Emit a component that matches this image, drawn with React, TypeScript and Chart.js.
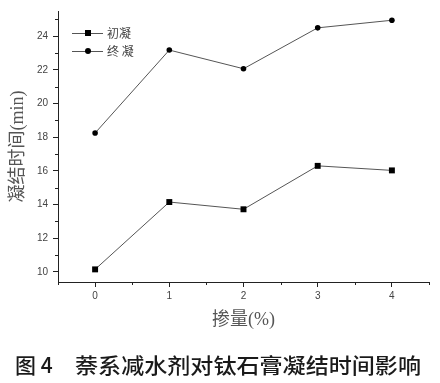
import React, { useEffect, useRef } from "react";
import { Chart, registerables } from "chart.js";

Chart.register(...registerables);

const dosage = [0, 1, 2, 3, 4];
const initialSet = [10.15, 14.15, 13.72, 16.3, 16.03];
const finalSet = [18.25, 23.18, 22.07, 24.5, 24.95];
const yTickValues = [10, 12, 14, 16, 18, 20, 22, 24];
const xTickValues = [0, 1, 2, 3, 4];
const seriesNames = ["初凝", "终 凝"];
const xTitle = "掺量(%)";
const yTitle = "凝结时间(min)";
const captionLabel = "图 4";
const captionText = "萘系减水剂对钛石膏凝结时间影响";

const AXIS = "#222";
const LABEL = "#444";

const extras = {
  id: "extras",
  afterDraw(chart: any) {
    const ctx = chart.ctx;
    const x = chart.scales.x;
    const y = chart.scales.y;
    const area = chart.chartArea;
    ctx.save();
    ctx.strokeStyle = AXIS;
    ctx.lineWidth = 1;
    ctx.beginPath();
    for (let v = -0.5; v <= 4.5; v += 1) {
      const px = Math.round(x.getPixelForValue(v)) + 0.5;
      ctx.moveTo(px, area.bottom);
      ctx.lineTo(px, area.bottom + 3);
    }
    for (let v = 11; v <= 25; v += 2) {
      const py = Math.round(y.getPixelForValue(v)) + 0.5;
      ctx.moveTo(area.left, py);
      ctx.lineTo(area.left - 3, py);
    }
    ctx.stroke();

    // legend
    const rows = [
      { name: seriesNames[0], y: 33, style: "rect" },
      { name: seriesNames[1], y: 51, style: "circle" },
    ];
    ctx.font = "12px 'Noto Sans CJK SC'";
    ctx.textBaseline = "middle";
    for (const r of rows) {
      ctx.strokeStyle = "#555";
      ctx.beginPath();
      ctx.moveTo(72, r.y + 0.5);
      ctx.lineTo(103, r.y + 0.5);
      ctx.stroke();
      ctx.fillStyle = "#000";
      if (r.style === "rect") {
        ctx.fillRect(85, r.y - 3, 6, 6);
      } else {
        ctx.beginPath();
        ctx.arc(88, r.y, 3, 0, Math.PI * 2);
        ctx.fill();
      }
      ctx.fillStyle = LABEL;
      ctx.textAlign = "left";
      ctx.fillText(r.name, 107, r.y);
    }

    // caption
    ctx.fillStyle = "#1a1a1a";
    ctx.font = "500 21px 'Noto Sans CJK SC'";
    ctx.textBaseline = "middle";
    ctx.textAlign = "left";
    ctx.fillText(captionLabel, 15, 365);
    const w = ctx.measureText(captionText).width;
    const target = 346;
    ctx.save();
    ctx.translate(75, 365);
    ctx.scale(target / w, 1);
    ctx.fillText(captionText, 0, 0);
    ctx.restore();
    ctx.restore();
  },
};

export default function App() {
  const ref = useRef<HTMLCanvasElement>(null);
  useEffect(() => {
    document.body.style.margin = "0";
    const chart = new Chart(ref.current!, {
      type: "line",
      data: {
        datasets: [
          {
            label: seriesNames[0],
            data: dosage.map((d, i) => ({ x: d, y: initialSet[i] })),
            borderColor: "#555",
            borderWidth: 1,
            pointStyle: "rect",
            pointRadius: 4.2,
            pointBackgroundColor: "#000",
            pointBorderWidth: 0,
          },
          {
            label: seriesNames[1],
            data: dosage.map((d, i) => ({ x: d, y: finalSet[i] })),
            borderColor: "#555",
            borderWidth: 1,
            pointStyle: "circle",
            pointRadius: 2.8,
            pointBackgroundColor: "#000",
            pointBorderWidth: 0,
          },
        ],
      },
      options: {
        animation: false,
        responsive: false,
        layout: { padding: { top: 8, right: 11, left: 0, bottom: 43 } },
        plugins: {
          legend: { display: false },
          tooltip: { enabled: false },
        },
        scales: {
          x: {
            type: "linear",
            min: -0.5,
            max: 4.5,
            afterBuildTicks: (s: any) => {
              s.ticks = xTickValues.map((v) => ({ value: v }));
            },
            afterFit: (s: any) => {
              s.height = 58;
            },
            border: { display: true, color: AXIS, width: 1 },
            grid: { drawOnChartArea: false, tickLength: 5, tickColor: AXIS },
            ticks: {
              color: LABEL,
              font: { size: 10, family: "'Liberation Sans'" },
              padding: 3,
              maxRotation: 0,
            },
            title: {
              display: true,
              text: xTitle,
              color: "#555",
              font: { size: 18, family: "'Liberation Serif', 'Noto Sans CJK SC'" },
              padding: { top: 0, bottom: 9 },
            },
          },
          y: {
            type: "linear",
            min: 9.4,
            max: 25.5,
            afterBuildTicks: (s: any) => {
              s.ticks = yTickValues.map((v) => ({ value: v }));
            },
            afterFit: (s: any) => {
              s.width = 58;
            },
            border: { display: true, color: AXIS, width: 1 },
            grid: { drawOnChartArea: false, tickLength: 5, tickColor: AXIS },
            ticks: {
              color: LABEL,
              font: { size: 10, family: "'Liberation Sans'" },
              padding: 5,
            },
            title: {
              display: true,
              text: yTitle,
              color: "#555",
              font: { size: 18, family: "'Liberation Serif', 'Noto Sans CJK SC'" },
              padding: { top: 7, bottom: 0 },
            },
          },
        },
      },
      plugins: [extras],
    } as any);
    return () => chart.destroy();
  }, []);
  return (
    <div style={{ width: 440, height: 383 }}>
      <canvas ref={ref} width={440} height={383} style={{ display: "block" }} />
    </div>
  );
}
